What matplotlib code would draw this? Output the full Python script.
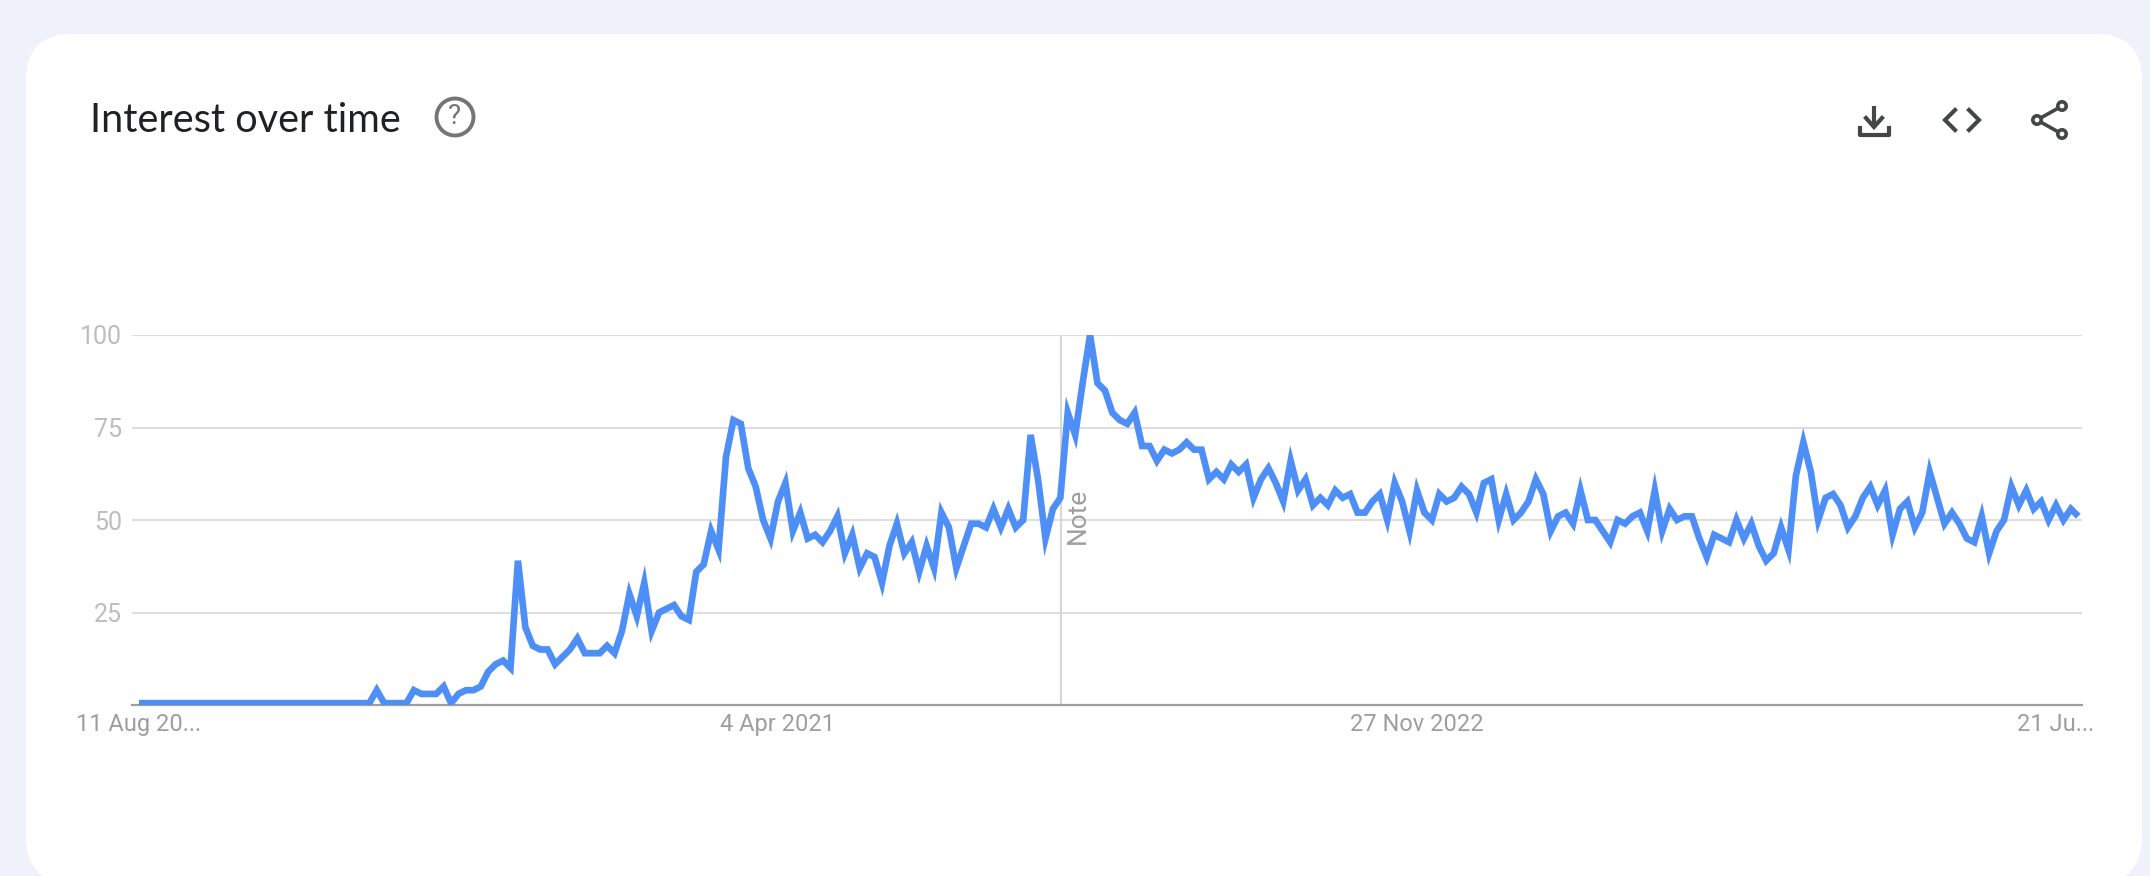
import matplotlib
matplotlib.use('Agg')
import matplotlib.pyplot as plt
from matplotlib.patches import FancyBboxPatch, Circle

W, H = 2150, 876

# weekly interest, 11 Aug 2019 onwards
vals_a = [0.5, 0.5, 0.5, 0.5, 0.5, 0.5, 0.5, 0.5, 0.5, 0.5, 0.5, 0.5, 0.5, 0.5, 0.5, 0.5,
          0.5, 0.5, 0.5, 0.5, 0.5, 0.5, 0.5, 0.5, 0.5, 0.5, 0.5, 0.5, 0.5, 0.5, 0.5, 0.5,
          4, 0.5, 0.5, 0.5, 0.5, 4, 3, 3, 3, 5, 0.5, 3, 4, 4, 5, 9, 11, 12, 10, 39, 21, 16,
          15, 15, 11, 13, 15, 18, 14, 14, 14, 16, 14, 20, 30, 24, 33, 20, 25, 26, 27, 24,
          23, 36, 38, 47, 42, 67, 77, 76]
vals_b = [64, 59, 50, 45, 55, 60, 47, 52, 45, 46, 44, 47, 51, 41, 46, 37, 41, 40, 33, 43,
          49, 41, 44, 36, 43, 37, 52, 48, 37, 43, 49, 49, 48, 53, 48, 53, 48, 50, 73, 61,
          45, 53, 56, 79, 73, 87, 100, 87, 85, 79, 77, 76, 79, 70, 70, 66, 69, 68, 69]
vals_c = [71, 69, 69, 61, 63, 61, 65, 63, 65, 56, 61, 64, 60, 55, 66, 58, 61, 54, 56, 54,
          58, 56, 57, 52, 52, 55, 57, 50, 60, 55, 47, 58, 52, 50, 57, 55, 56, 59, 57, 52,
          60, 61, 50, 57, 50, 52, 55, 61, 57, 47, 51, 52, 49, 58, 50, 50, 47, 44, 50, 49,
          51, 52, 47, 58, 47, 53, 50]
vals_d = [51, 51, 45, 40, 46, 45, 44, 50, 45, 49, 43, 39, 41, 48, 42, 62, 71, 63, 50, 56,
          57, 54, 48, 51, 56, 59, 54, 58, 46, 53, 55, 48, 52, 63, 56, 49, 52, 49, 45, 44,
          51, 41, 47, 50, 59, 54, 58, 53, 55, 50, 54, 50, 53, 51]
interest = vals_a + vals_b + vals_c + vals_d
weeks = list(range(len(interest)))

y_ticks = [25, 50, 75, 100]
x_tick_pos = [0, 86, 172, 258]
x_tick_labels = ['11 Aug 20...', '4 Apr 2021', '27 Nov 2022', '21 Ju...']
note_week = 124.1

BLUE = '#4D8EF7'
GRID = '#dedede'
GREY = '#9e9e9e'
ICON = '#444746'

fig = plt.figure(figsize=(W / 100, H / 100), dpi=100, facecolor='#EFF2FA')

# page layer in pixel coordinates, y going down
bg = fig.add_axes([0, 0, 1, 1])
bg.set_xlim(0, W)
bg.set_ylim(H, 0)
bg.axis('off')
card = FancyBboxPatch((26 + 46, 34 + 46), 2142 - 26 - 92, 883 - 34 - 92,
                      boxstyle='round,pad=46,rounding_size=46', fc='white', ec='none')
bg.add_patch(card)
bg.text(90, 121, 'Interest over time', fontsize=28.6, family='Lato', color='#202124',
        va='center', ha='left')

# help icon
bg.add_patch(Circle((455, 117), 18.5, fc='none', ec='#757575', lw=2.8))
bg.text(455, 117, '?', fontsize=20, family='Roboto', color='#757575',
        ha='center', va='center')

# download icon
bg.plot([1874, 1874], [106, 125], color=ICON, lw=3, solid_capstyle='butt')
bg.plot([1866, 1874, 1882], [118, 127, 118], color=ICON, lw=3, solid_joinstyle='miter')
bg.plot([1860, 1860, 1889, 1889], [128, 135, 135, 128], color=ICON, lw=3, solid_joinstyle='round')
# code icon
bg.plot([1955, 1945, 1955], [110, 120, 130], color=ICON, lw=3, solid_joinstyle='miter')
bg.plot([1969, 1979, 1969], [110, 120, 130], color=ICON, lw=3, solid_joinstyle='miter')
# share icon
bg.plot([2062, 2037, 2062], [106, 120, 134], color=ICON, lw=2.6)
for cx, cy in [(2062, 106), (2037, 120), (2062, 134)]:
    bg.add_patch(Circle((cx, cy), 4.2, fc='white', ec=ICON, lw=2.6, zorder=3))

# chart axes, pixel box 132..2082 x 335..705
ax = fig.add_axes([132 / W, 1 - 705 / H, (2082 - 132) / W, (705 - 335) / H])
ax.patch.set_alpha(0)
ax.set_xlim(-0.94, 261.5)
ax.set_ylim(0, 100)
for s in ['top', 'left', 'right']:
    ax.spines[s].set_visible(False)
ax.spines['bottom'].set_color(GREY)
ax.spines['bottom'].set_linewidth(1.6)
ax.set_yticks(y_ticks)
ax.set_yticklabels([str(v) for v in y_ticks], fontsize=18, family='Roboto', color='#bdbdbd')
ax.set_xticks(x_tick_pos)
ax.set_xticklabels(x_tick_labels, fontsize=17, family='Roboto', color=GREY)
ax.tick_params(axis='both', length=0)
ax.tick_params(axis='x', pad=6)
ax.tick_params(axis='y', pad=7)
ax.grid(axis='y', color=GRID, lw=1.5)
ax.set_axisbelow(True)

ax.axvline(note_week, color='#d6d6d6', lw=1.5, zorder=1)
ax.text(note_week + 2.2, 51, 'Note', rotation=90, fontsize=19, family='Roboto', color=GREY,
        ha='center', va='center')

ax.plot(weeks, interest, color=BLUE, lw=4.8, solid_joinstyle='miter', solid_capstyle='butt', zorder=3)

fig.savefig('out.png', dpi=100, facecolor=fig.get_facecolor())
